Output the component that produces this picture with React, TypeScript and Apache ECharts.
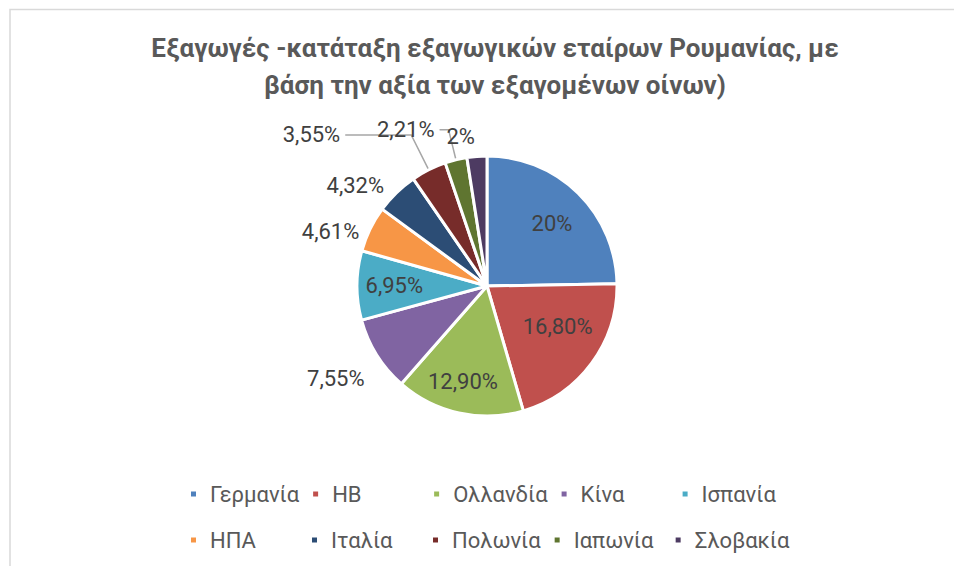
import React, { useEffect, useRef } from "react";
import * as echarts from "echarts";

// ---- data ----
const categories = ["Γερμανία", "HB", "Ολλανδία", "Κίνα", "Ισπανία", "ΗΠΑ", "Ιταλία", "Πολωνία", "Ιαπωνία", "Σλοβακία"];
const values = [20, 16.8, 12.9, 7.55, 6.95, 4.61, 4.32, 3.55, 2.21, 2];
const valueLabels = ["20%", "16,80%", "12,90%", "7,55%", "6,95%", "4,61%", "4,32%", "3,55%", "2,21%", "2%"];
const titleLines = [
  "Εξαγωγές -κατάταξη εξαγωγικών εταίρων Ρουμανίας, με",
  "βάση την αξία των εξαγομένων οίνων)",
];

// ---- styles ----
const colors = ["#4F81BD", "#C0504D", "#9BBB59", "#8064A2", "#4BACC6", "#F79646", "#2C4D75", "#772C2A", "#5F7530", "#4D3B62"];
const insideLabel = [true, true, true, false, true, false, false, false, false, false];
// outside-label leader settings: [show line, length, length2]
const leader: Record<number, [boolean, number, number]> = {
  3: [false, 12, 0],
  5: [false, 12, 0],
  6: [false, 12, 0],
  7: [true, 39, 66],
  8: [true, 31, 9],
  9: [false, 12, 0],
};
const labelNudge: Record<number, [number, number]> = {
  3: [3, 17],
  5: [5, 8],
  6: [1, 1],
  9: [4, -8],
};
const insideNudge: Record<number, [number, number]> = {
  0: [0, 4],
  1: [-4, -15],
  2: [-4, 5],
};

const FONT = "Roboto";
const CENTER = [487, 286];
const R = 130;

export default function App() {
  const ref = useRef<HTMLDivElement>(null);
  useEffect(() => {
    if (!ref.current) return;
    const chart = echarts.init(ref.current, undefined, { renderer: "svg" });
    const mainData = categories.map((name, i) => {
      const l = leader[i];
      return {
        name,
        value: values[i],
        itemStyle: { color: colors[i] },
        label: insideLabel[i]
          ? { show: false }
          : { show: true, position: "outside", formatter: valueLabels[i] },
        labelLine: l
          ? { show: l[0], length: l[1], length2: l[2], lineStyle: { color: "#A6A6A6", width: 1.5 } }
          : { show: false },
      };
    });
    const ringData = categories.map((name, i) => ({
      name,
      value: values[i],
      label: insideLabel[i]
        ? { show: true, position: "inside", formatter: valueLabels[i] }
        : { show: false },
    }));
    chart.setOption({
      animation: false,
      backgroundColor: "#ffffff",
      title: {
        text: titleLines.join("\n"),
        left: 490,
        top: 24,
        textAlign: "center",
        textStyle: {
          fontFamily: FONT,
          fontWeight: "bold",
          fontSize: 26,
          color: "#595959",
          lineHeight: 37,
        },
      },
      legend: {
        data: categories,
        left: 184,
        top: 472,
        width: 620,
        icon: "rect",
        itemWidth: 7,
        itemHeight: 7,
        itemGap: 12,
        selectedMode: false,
        textStyle: {
          fontFamily: FONT,
          fontSize: 22,
          color: "#595959",
          width: 88,
          lineHeight: 34,
          padding: [0, 0, 0, 8],
        },
      },
      graphic: [
        {
          type: "rect",
          shape: { x: 10, y: 9.5, width: 980, height: 600 },
          style: { fill: "none", stroke: "#D9D9D9", lineWidth: 1.5 },
          silent: true,
          z: -1,
        },
      ],
      series: [
        {
          type: "pie",
          center: CENTER,
          radius: R,
          startAngle: 90,
          clockwise: true,
          avoidLabelOverlap: false,
          silent: true,
          itemStyle: { borderColor: "#ffffff", borderWidth: 3 },
          label: {
            fontFamily: FONT,
            fontSize: 22,
            color: "#404040",
            distanceToLabelLine: 5,
          },
          labelLayout: (params: any) => {
            const n = labelNudge[params.dataIndex];
            if (!n) return {};
            return { dx: n[0], dy: n[1] };
          },
          emphasis: { disabled: true },
          data: mainData,
        },
        {
          type: "pie",
          center: CENTER,
          radius: [0, R * 1.38],
          startAngle: 90,
          clockwise: true,
          avoidLabelOverlap: false,
          silent: true,
          itemStyle: { color: "rgba(0,0,0,0)", borderWidth: 0 },
          label: {
            fontFamily: FONT,
            fontSize: 22,
            color: "#404040",
          },
          labelLayout: (params: any) => {
            const n = insideNudge[params.dataIndex];
            if (!n) return {};
            return { dx: n[0], dy: n[1] };
          },
          labelLine: { show: false },
          emphasis: { disabled: true },
          data: ringData,
        },
      ],
    });
    return () => chart.dispose();
  }, []);
  return (
    <div
      ref={ref}
      style={{ position: "absolute", left: 0, top: 0, width: 954, height: 566 }}
    />
  );
}
